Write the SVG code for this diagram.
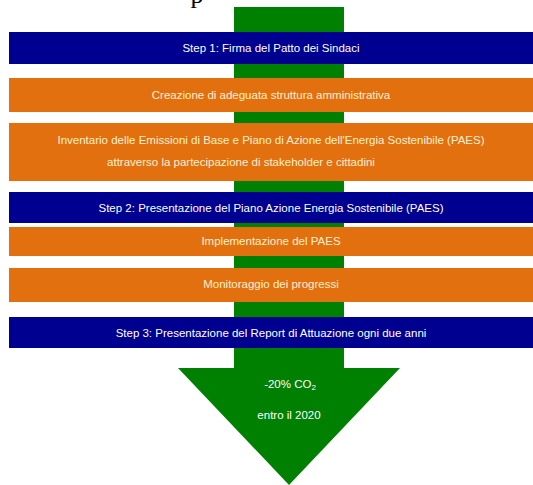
<svg xmlns="http://www.w3.org/2000/svg" width="533" height="485" viewBox="0 0 533 485">
<style>
.blue{fill:#000090}
.orange{fill:#E2700F}
.green{fill:#008000}
.t{font-family:"Liberation Sans",Arial,sans-serif;font-size:11.5px;text-anchor:middle;dominant-baseline:central}
.w{fill:#FFFFFF}
.c{fill:#FFF1D0}
</style>
<rect width="533" height="485" fill="#FFFFFF"/>
<text x="197" y="3" font-family="Liberation Serif,serif" font-size="26" fill="#000000" text-anchor="middle">p</text>
<g id="connectors">
<path id="arrow" class="green" d="M234,7 H344 V368 H400 L289,485 L178,368 H234 Z"/>
</g>
<g id="step1"><rect class="blue" x="9" y="32" width="524" height="32"/><text class="t w" x="271" y="48">Step 1: Firma del Patto dei Sindaci</text></g>
<g id="struttura"><rect class="orange" x="9" y="78" width="524" height="34"/><text class="t c" x="271" y="95">Creazione di adeguata struttura amministrativa</text></g>
<g id="inventario"><rect class="orange" x="9" y="123" width="524" height="58"/><text class="t c" x="271" y="140">Inventario delle Emissioni di Base e Piano di Azione dell'Energia Sostenibile (PAES)</text><text class="t c" x="241" y="162">attraverso la partecipazione di stakeholder e cittadini</text></g>
<g id="step2"><rect class="blue" x="9" y="192" width="524" height="31"/><text class="t w" x="271" y="208">Step 2: Presentazione del Piano Azione Energia Sostenibile (PAES)</text></g>
<g id="implementazione"><rect class="orange" x="9" y="227" width="524" height="29"/><text class="t c" x="271" y="241">Implementazione del PAES</text></g>
<g id="monitoraggio"><rect class="orange" x="9" y="268" width="524" height="34"/><text class="t c" x="271" y="284">Monitoraggio dei progressi</text></g>
<g id="step3"><rect class="blue" x="9" y="317" width="524" height="31"/><text class="t w" x="271" y="333">Step 3: Presentazione del Report di Attuazione ogni due anni</text></g>
<g id="obiettivo"><text class="t w" x="290" y="384">-20% CO<tspan font-size="8" dy="3">2</tspan></text><text class="t w" x="289" y="415" font-size="12.5">entro il 2020</text></g>
</svg>
